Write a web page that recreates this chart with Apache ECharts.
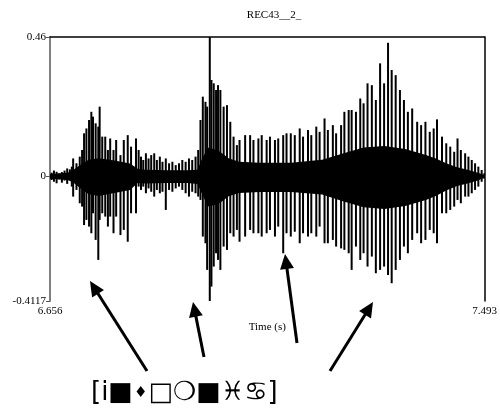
<!DOCTYPE html>
<html>
<head>
<meta charset="utf-8">
<script src="https://cdn.jsdelivr.net/npm/echarts@6/dist/echarts.min.js"></script>
<style>html,body{margin:0;padding:0;background:#fff}#c{width:500px;height:414px}</style>
</head>
<body>
<div id="c"></div>
<script>
// ---- data ----
const chartTitle = 'REC43__2_';
const timeMin = 6.656, timeMax = 7.493;
const ampMin = -0.4117, ampMax = 0.46;
const xTickLabels = [6.656, 7.493];
const yTickLabels = [ampMin, 0, ampMax];
const transcriptionParts = ['[i\u25A0', '\u2666', '\u25A1\u274D\u25A0\u2653\u264B]'];

// waveform excursions: time (s), positive peak, negative peak
const strokeTime = [6.6592,6.6636,6.6687,6.6738,6.6789,6.6840,6.6891,6.6942,6.6980,
 6.7006,6.7070,6.7133,6.7178,6.7216,6.7261,6.7312,6.7356,6.7388,6.7439,6.7490,6.7516,6.7566,6.7624,6.7675,6.7719,6.7783,6.7834,6.7917,6.7981,6.8057,6.8121,6.8216,6.8267,
 6.8312,6.8356,6.8407,6.8458,6.8509,6.8567,6.8618,6.8675,6.8726,6.8790,6.8853,6.8917,6.8981,6.9044,6.9108,6.9172,6.9236,6.9299,6.9363,6.9414,
 6.9458,6.9503,6.9554,6.9586,6.9637,6.9669,6.9713,6.9758,6.9796,6.9841,6.9904,6.9968,7.0032,7.0095,7.0159,7.0210,
 7.0318,7.0414,7.0478,7.0573,7.0637,7.0732,7.0796,7.0892,7.0955,7.1051,7.1115,7.1197,7.1274,7.1369,7.1433,7.1529,7.1592,7.1688,7.1752,7.1847,7.1911,7.2007,7.2070,7.2166,
 7.2229,7.2312,7.2369,7.2452,7.2535,7.2599,7.2675,7.2758,7.2835,7.2917,7.2994,7.3070,7.3140,7.3217,7.3299,7.3376,7.3452,7.3535,7.3631,7.3707,7.3790,7.3873,7.3949,7.4013,
 7.4109,7.4191,7.4268,7.4344,7.4408,7.4472,7.4555,7.4618,7.4682,7.4746,7.4809,7.4873,7.4924];
const strokeTop = [0.012,0.019,0.015,0.010,0.014,0.019,0.026,0.023,0.032,
 0.059,0.043,0.065,0.087,0.142,0.158,0.186,0.213,0.197,0.175,0.164,0.230,0.131,0.131,0.087,0.125,0.087,0.120,0.070,0.120,0.136,0.098,0.125,0.087,
 0.065,0.054,0.076,0.059,0.070,0.076,0.054,0.065,0.048,0.059,0.043,0.048,0.037,0.043,0.054,0.048,0.059,0.054,0.065,0.087,
 0.186,0.263,0.246,0.230,0.460,0.318,0.307,0.285,0.301,0.285,0.230,0.235,0.180,0.131,0.103,0.120,
 0.136,0.136,0.120,0.125,0.136,0.120,0.131,0.120,0.125,0.136,0.142,0.142,0.136,0.158,0.131,0.153,0.136,0.164,0.147,0.191,0.153,0.169,0.142,0.169,
 0.213,0.219,0.219,0.213,0.257,0.241,0.307,0.301,0.252,0.373,0.307,0.441,0.351,0.334,0.285,0.252,0.213,0.224,0.180,0.169,0.180,0.147,0.158,0.188,
 0.131,0.109,0.098,0.081,0.125,0.087,0.076,0.065,0.054,0.043,0.032,0.021,0.010];
const strokeBottom = [-0.012,-0.018,-0.023,-0.010,-0.021,-0.014,-0.025,-0.012,-0.034,
 -0.067,-0.045,-0.089,-0.100,-0.161,-0.144,-0.166,-0.188,-0.122,-0.210,-0.276,-0.144,-0.122,-0.133,-0.166,-0.133,-0.188,-0.133,-0.194,-0.177,-0.216,-0.122,-0.122,-0.034,
 -0.045,-0.034,-0.056,-0.040,-0.051,-0.067,-0.045,-0.056,-0.051,-0.111,-0.045,-0.051,-0.040,-0.034,-0.045,-0.056,-0.067,-0.051,-0.056,-0.067,
 -0.078,-0.199,-0.221,-0.309,-0.4117,-0.364,-0.298,-0.254,-0.276,-0.309,-0.232,-0.243,-0.188,-0.199,-0.177,-0.216,
 -0.199,-0.177,-0.188,-0.188,-0.199,-0.188,-0.177,-0.199,-0.166,-0.254,-0.188,-0.199,-0.183,-0.221,-0.188,-0.199,-0.188,-0.199,-0.166,-0.221,-0.221,-0.210,-0.232,-0.238,
 -0.243,-0.254,-0.309,-0.232,-0.276,-0.254,-0.298,-0.265,-0.320,-0.309,-0.298,-0.326,-0.353,-0.309,-0.276,-0.232,-0.254,-0.210,-0.188,-0.221,-0.210,-0.177,-0.188,-0.221,
 -0.122,-0.122,-0.111,-0.100,-0.078,-0.089,-0.067,-0.067,-0.056,-0.045,-0.034,-0.018,-0.008];

// dense inner envelope of the waveform
const coreTime = [6.656,6.690,6.700,6.715,6.730,6.750,6.780,6.810,6.825,6.840,6.880,6.920,6.940,6.948,6.960,6.980,7.000,7.020,7.060,7.120,7.180,7.220,7.260,7.300,7.340,7.380,7.400,7.420,7.440,7.460,7.480,7.493];
const coreHi = [0.008,0.012,0.020,0.038,0.055,0.060,0.052,0.042,0.025,0.022,0.020,0.020,0.022,0.055,0.095,0.085,0.060,0.048,0.045,0.045,0.055,0.075,0.095,0.100,0.090,0.070,0.058,0.042,0.030,0.022,0.012,0.004];
const coreLo = [-0.008,-0.012,-0.020,-0.040,-0.058,-0.065,-0.055,-0.045,-0.022,-0.024,-0.022,-0.022,-0.025,-0.055,-0.100,-0.092,-0.066,-0.055,-0.052,-0.052,-0.060,-0.082,-0.102,-0.108,-0.098,-0.078,-0.064,-0.046,-0.032,-0.024,-0.014,-0.004];

// annotation arrows (tail -> tip), page pixels
const arrows = [[[147,371],[90,281]],[[204,357],[193,302]],[[297,343],[285,254]],[[330,371],[373,302]]];

// ---- chart ----
const serif = '"Liberation Serif","Times New Roman",serif';
const strokeData = strokeTime.map((t,i)=>[t, strokeTop[i], strokeBottom[i]]);

function arrowGraphics(){
  const out = [];
  arrows.forEach(([a,b])=>{
    const dx=b[0]-a[0], dy=b[1]-a[1], L=Math.hypot(dx,dy);
    const ux=dx/L, uy=dy/L, nx=-uy, ny=ux, hl=15, hw=7;
    const bx=b[0]-ux*hl, by=b[1]-uy*hl;
    out.push({type:'line', shape:{x1:a[0],y1:a[1],x2:b[0]-ux*8,y2:b[1]-uy*8}, style:{stroke:'#000',lineWidth:3}, z:50});
    out.push({type:'polygon', shape:{points:[[b[0],b[1]],[bx+nx*hw,by+ny*hw],[bx-nx*hw,by-ny*hw]]}, style:{fill:'#000'}, z:51});
  });
  out.push({type:'text', left:91, top:380, z:50, style:{
    text:'{a|'+transcriptionParts[0]+'}{d|'+transcriptionParts[1]+'}{a|'+transcriptionParts[2]+'}',
    rich:{a:{font:'26px "DejaVu Sans"', fill:'#000', verticalAlign:'middle', lineHeight:32},
          d:{font:'15px "DejaVu Sans"', fill:'#000', verticalAlign:'middle', lineHeight:32, padding:[0,1,0,1]}},
    fill:'#000'}});
  return out;
}

const chart = echarts.init(document.getElementById('c'), null, {renderer:'canvas'});
chart.setOption({
  animation:false,
  title:{text:chartTitle, left:269, top:5, textAlign:'center', textStyle:{fontFamily:serif, fontSize:11, fontWeight:'normal', color:'#000'}},
  grid:{left:50, right:12, top:37, bottom:113, containLabel:false},
  xAxis:[{type:'value', min:timeMin, max:timeMax, name:'Time (s)', nameLocation:'middle', nameGap:20,
    nameTextStyle:{fontFamily:serif, fontSize:11, color:'#000'},
    axisLine:{lineStyle:{color:'#808080', width:1.5}},
    axisTick:{show:true, length:3, customValues:xTickLabels, lineStyle:{color:'#555'}},
    axisLabel:{customValues:xTickLabels, fontFamily:serif, fontSize:11, color:'#000', margin:5, formatter:v=>v.toFixed(3)},
    splitLine:{show:false}},
   {type:'value', position:'top', min:timeMin, max:timeMax, axisLine:{onZero:false, lineStyle:{color:'#000', width:1.5}}, axisTick:{show:false}, axisLabel:{show:false}, splitLine:{show:false}}],
  yAxis:[{type:'value', min:ampMin, max:ampMax,
    axisLine:{show:true, lineStyle:{color:'#808080', width:2}},
    axisTick:{show:true, length:4, customValues:yTickLabels, lineStyle:{color:'#555'}},
    axisLabel:{customValues:yTickLabels, fontFamily:serif, fontSize:11, color:'#000', margin:4, formatter:v=>String(v)},
    splitLine:{show:false}},
   {type:'value', position:'right', min:ampMin, max:ampMax, axisLine:{show:true, onZero:false, lineStyle:{color:'#000', width:1.5}}, axisTick:{show:false}, axisLabel:{show:false}, splitLine:{show:false}}],
  series:[
    {type:'custom', coordinateSystem:'cartesian2d', data:[[timeMin,0]], clip:true, silent:true, z:2,
     renderItem:function(params, api){
       const up = coreTime.map((t,i)=>api.coord([t, coreHi[i]]));
       const dn = coreTime.map((t,i)=>api.coord([t, coreLo[i]])).reverse();
       return {type:'polygon', shape:{points:up.concat(dn)}, style:{fill:'#000'}};
     },
     markLine:{silent:true, symbol:'none', label:{show:false}, lineStyle:{color:'#888', width:0.8, type:'solid'}, data:[{yAxis:0}], z:1}
    },
    {type:'custom', coordinateSystem:'cartesian2d', data:strokeData, clip:true, silent:true, z:3,
     encode:{x:0, y:[1,2]},
     renderItem:function(params, api){
       const p1 = api.coord([api.value(0), api.value(1)]);
       const p2 = api.coord([api.value(0), api.value(2)]);
       return {type:'line', shape:{x1:p1[0], y1:p1[1], x2:p2[0], y2:p2[1]}, style:{stroke:'#000', lineWidth:2}};
     }}
  ],
  graphic: arrowGraphics()
});
</script>
</body>
</html>
